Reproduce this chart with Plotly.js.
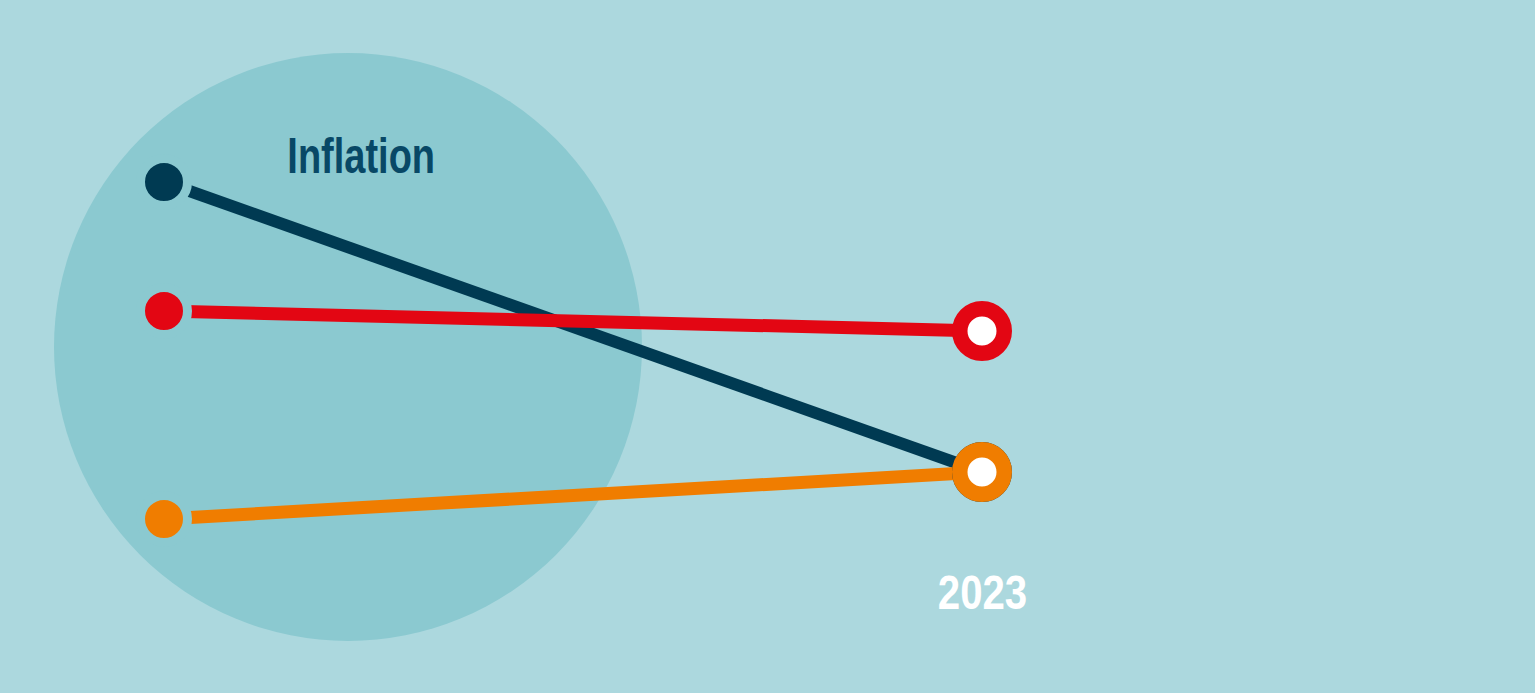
<!DOCTYPE html>
<html>
<head>
<meta charset="utf-8">
<script src="https://cdn.plot.ly/plotly-3.0.1.min.js"></script>
<style>
  html, body { margin: 0; padding: 0; background: #acd8de; }
  #chart { width: 1535px; height: 693px; }
  .annotation-text { transform-box: fill-box; transform-origin: center; }
</style>
</head>
<body>
<div id="chart"></div>
<script>
// Data
const xPoints = [0, 1];
const xLabels = ["", "2023"];
const seriesNames = ["Series A", "Series B", "Series C"];
const seriesColors = ["#003a52", "#e30613", "#f07d00"];
const navyValues = [5.11, 2.21];
const redValues = [3.82, 3.62];
const orangeValues = [1.74, 2.21];
const chartTitle = "Inflation";

const allValues = [navyValues, redValues, orangeValues];
const BG = "#acd8de";
const CIRCLE = "#8bc9d0";

const traces = [];
// lines
allValues.forEach((vals, i) => {
  traces.push({
    x: xPoints, y: vals, mode: "lines", name: seriesNames[i],
    line: { color: seriesColors[i], width: i === 0 ? 12 : 13 },
    hoverinfo: "skip", showlegend: false
  });
});
// start dots with gap ring
traces.push({
  x: allValues.map(() => xPoints[0]),
  y: allValues.map(v => v[0]),
  mode: "markers",
  marker: { size: 47, color: seriesColors, line: { color: CIRCLE, width: 9 } },
  hoverinfo: "skip", showlegend: false
});
// end rings
allValues.forEach((vals, i) => {
  traces.push({
    x: [xPoints[1]], y: [vals[1]], mode: "markers",
    marker: { size: 44.5, color: "#ffffff", line: { color: seriesColors[i], width: 15.5 } },
    hoverinfo: "skip", showlegend: false
  });
});

const FONT = "Liberation Sans, Arial, sans-serif";
const layout = {
  width: 1535, height: 693,
  margin: { l: 0, r: 0, t: 0, b: 0 },
  paper_bgcolor: BG, plot_bgcolor: BG,
  xaxis: { range: [-0.20049, 1.67604], visible: false, fixedrange: true },
  yaxis: { range: [0, 6.93], visible: false, fixedrange: true },
  showlegend: false,
  shapes: [{
    type: "circle", xref: "paper", yref: "paper",
    x0: 54 / 1535, x1: 642 / 1535, y0: (693 - 641) / 693, y1: (693 - 53) / 693,
    fillcolor: CIRCLE, line: { width: 0 }, layer: "below"
  }],
  annotations: [
    {
      text: chartTitle, xref: "paper", yref: "paper",
      x: 361 / 1535, y: (693 - 156) / 693, xanchor: "center", yanchor: "middle",
      showarrow: false,
      font: { family: FONT, size: 50, weight: "bold", color: "#084866" }
    },
    {
      text: xLabels[1], xref: "x", yref: "paper",
      x: xPoints[1], y: (693 - 592) / 693, xanchor: "center", yanchor: "middle",
      showarrow: false,
      font: { family: FONT, size: 49, weight: "bold", color: "#ffffff" }
    }
  ]
};

Plotly.newPlot("chart", traces, layout, { displayModeBar: false, staticPlot: true }).then(gd => {
  const texts = gd.querySelectorAll(".annotation-text");
  const scales = [0.76, 0.82];
  texts.forEach((t, i) => { t.style.transform = "scaleX(" + (scales[i] || 1) + ")"; });
});
</script>
</body>
</html>
